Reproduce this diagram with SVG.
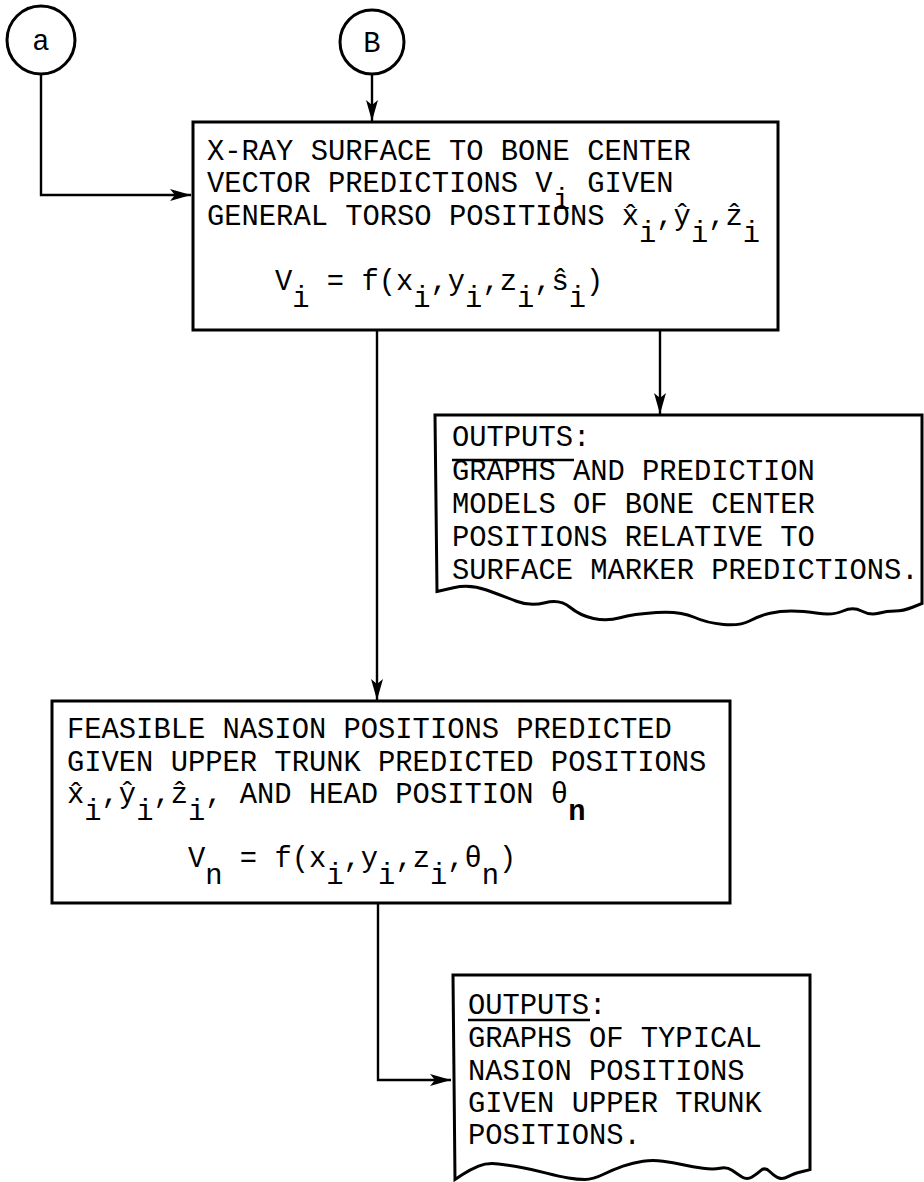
<svg xmlns="http://www.w3.org/2000/svg" width="924" height="1182" viewBox="0 0 924 1182">
<defs>
<marker id="arr" markerUnits="userSpaceOnUse" markerWidth="22" markerHeight="12" refX="21" refY="6" orient="auto">
<path d="M0,0 L21,6 L0,12 L5,6 Z" fill="#000"/>
</marker>
<style>
.t{font-family:"Liberation Mono","Courier New",monospace;font-size:28.8px;fill:#000}
.c{text-anchor:middle}
.box{fill:none;stroke:#000;stroke-width:3}
.ln{fill:none;stroke:#000;stroke-width:2.4}
</style>
</defs>
<rect width="924" height="1182" fill="#fff"/>

<g id="conn">
<path class="ln" d="M41,74 L41,195 L191,195" marker-end="url(#arr)"/>
<path class="ln" d="M372,74 L372,121" marker-end="url(#arr)"/>
<path class="ln" d="M377,330 L377,700" marker-end="url(#arr)"/>
<path class="ln" d="M660,330 L660,414" marker-end="url(#arr)"/>
<path class="ln" d="M378,904 L378,1080 L451,1080" marker-end="url(#arr)"/>
</g>

<g id="node-a">
<circle class="box" cx="41" cy="40" r="34"/>
<text class="t c" x="41" y="50">a</text>
</g>
<g id="node-b">
<circle class="box" cx="372" cy="42" r="32"/>
<text class="t c" x="372" y="52">B</text>
</g>

<g id="box1">
<rect class="box" x="193" y="122" width="585" height="208"/>
<text class="t" x="207" y="160">X-RAY SURFACE TO BONE CENTER</text>
<text class="t" x="207" y="192">VECTOR PREDICTIONS V<tspan dy="17">i</tspan><tspan dy="-17"> GIVEN</tspan></text>
<text class="t" x="207" y="225">GENERAL TORSO POSITIONS x̂<tspan dy="17">i</tspan><tspan dy="-17">,ŷ</tspan><tspan dy="17">i</tspan><tspan dy="-17">,ẑ</tspan><tspan dy="17">i</tspan></text>
<text class="t" x="275" y="290">V<tspan dy="17">i</tspan><tspan dy="-17"> = f(x</tspan><tspan dy="17">i</tspan><tspan dy="-17">,y</tspan><tspan dy="17">i</tspan><tspan dy="-17">,z</tspan><tspan dy="17">i</tspan><tspan dy="-17">,ŝ</tspan><tspan dy="17">i</tspan><tspan dy="-17">)</tspan></text>
</g>

<g id="out1">
<path class="box" d="M437,591.5 L453.5,587.75 Q470,584 486.5,590 Q503,596 516.5,601.25 Q530,606.5 545,602.75 Q560,599 570,607.25 Q580,615.5 593.5,618.5 Q607,621.5 620,617.75 Q633,614 656.5,612.5 Q680,611 693.5,617 Q707,623 723.5,624.5 Q740,626 750,620.75 Q760,615.5 770,613.25 Q780,611 791.5,611 Q803,611 818,613.25 Q833,615.5 843,611 Q853,606.5 861.5,611 Q870,615.5 878.5,613.25 Q887,611 895,611 Q903,611 912.5,607.25 L922,603.5 L922,415 L435,415 Z"/>
<text class="t" x="452" y="446">OUTPUTS:</text>
<line class="ln" x1="452" y1="460" x2="574" y2="460"/>
<text class="t" x="452" y="480">GRAPHS AND PREDICTION</text>
<text class="t" x="452" y="513">MODELS OF BONE CENTER</text>
<text class="t" x="452" y="546">POSITIONS RELATIVE TO</text>
<text class="t" x="452" y="579">SURFACE MARKER PREDICTIONS.</text>
</g>

<g id="box2">
<rect class="box" x="52" y="701" width="678" height="202"/>
<text class="t" x="67" y="738">FEASIBLE NASION POSITIONS PREDICTED</text>
<text class="t" x="67" y="771">GIVEN UPPER TRUNK PREDICTED POSITIONS</text>
<text class="t" x="67" y="803">x̂<tspan dy="17">i</tspan><tspan dy="-17">,ŷ</tspan><tspan dy="17">i</tspan><tspan dy="-17">,ẑ</tspan><tspan dy="17">i</tspan><tspan dy="-17">, AND HEAD POSITION θ</tspan><tspan dy="17" font-weight="bold">n</tspan></text>
<text class="t" x="188" y="867">V<tspan dy="17">n</tspan><tspan dy="-17"> = f(x</tspan><tspan dy="17">i</tspan><tspan dy="-17">,y</tspan><tspan dy="17">i</tspan><tspan dy="-17">,z</tspan><tspan dy="17">i</tspan><tspan dy="-17">,θ</tspan><tspan dy="17">n</tspan><tspan dy="-17">)</tspan></text>
</g>

<g id="out2">
<path class="box" d="M455,1179.4 L462.5,1174.5 Q470,1169.6 478.5,1166.1 Q487,1162.6 498.5,1164 Q510,1165.4 521.5,1167.5 Q533,1169.6 546.5,1173.1 Q560,1176.6 568.5,1178 Q577,1179.5 585,1179.5 Q593,1179.4 603,1174.5 Q613,1169.6 623,1166.1 Q633,1162.6 643,1161.2 Q653,1159.8 663,1161.2 Q673,1162.6 683,1164.7 Q693,1166.8 703,1168.2 Q713,1169.6 720,1168.2 Q727,1166.8 732,1170.3 Q737,1173.8 742,1176.9 Q747,1180 752,1176.9 Q757,1173.8 761,1170.3 Q765,1166.8 770,1171.7 Q775,1176.6 779,1178 Q783,1179.5 788,1176.6 Q793,1173.8 801.5,1171.7 L810,1169.6 L810,975 L453,975 Z"/>
<text class="t" x="468" y="1014">OUTPUTS:</text>
<line class="ln" x1="468" y1="1020" x2="590" y2="1020"/>
<text class="t" x="468" y="1047">GRAPHS OF TYPICAL</text>
<text class="t" x="468" y="1080">NASION POSITIONS</text>
<text class="t" x="468" y="1112">GIVEN UPPER TRUNK</text>
<text class="t" x="468" y="1144">POSITIONS.</text>
</g>
</svg>
